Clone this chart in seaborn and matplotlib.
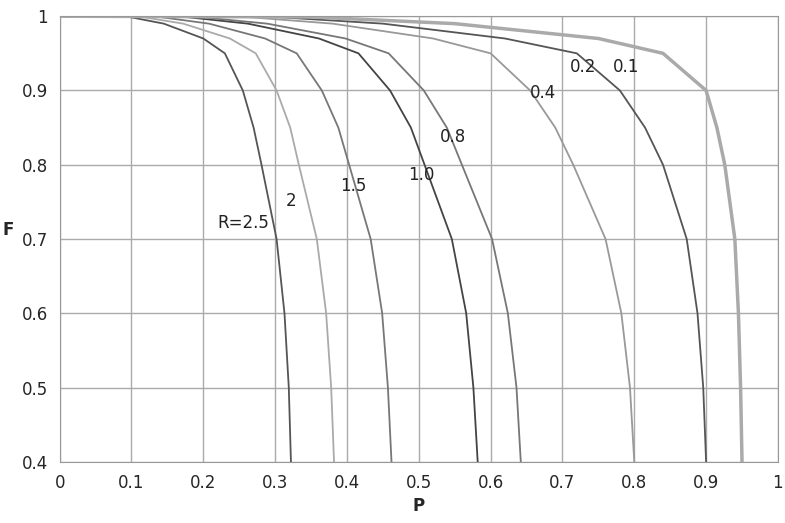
import matplotlib
matplotlib.use("Agg")
import matplotlib.pyplot as plt
import seaborn as sns
import pandas as pd
from matplotlib.ticker import MultipleLocator

sns.set_style("white")
plt.rcParams['font.family'] = ['DejaVu Sans']

F_vals = [1, 0.999, 0.99, 0.97, 0.95, 0.9, 0.85, 0.8, 0.7, 0.6, 0.5, 0.4]
P_R25 = [0, 0.097, 0.145, 0.2, 0.23, 0.255, 0.27, 0.281, 0.302, 0.313, 0.319, 0.322]
P_R2 = [0, 0.115, 0.172, 0.237, 0.273, 0.302, 0.321, 0.333, 0.358, 0.371, 0.378, 0.382]
P_R15 = [0, 0.139, 0.208, 0.286, 0.33, 0.365, 0.388, 0.403, 0.433, 0.449, 0.457, 0.462]
P_R10 = [0, 0.175, 0.262, 0.361, 0.416, 0.46, 0.489, 0.508, 0.546, 0.566, 0.576, 0.582]
P_R08 = [0, 0.193, 0.289, 0.398, 0.458, 0.507, 0.539, 0.56, 0.602, 0.624, 0.636, 0.642]
P_R04 = [0, 0.26, 0.38, 0.52, 0.6, 0.655, 0.69, 0.715, 0.76, 0.782, 0.794, 0.8]
P_R02 = [0, 0.3, 0.45, 0.62, 0.72, 0.78, 0.815, 0.84, 0.873, 0.888, 0.896, 0.9]
P_R01 = [0, 0.35, 0.55, 0.75, 0.84, 0.9, 0.915, 0.926, 0.94, 0.945, 0.948, 0.95]

curves = {"2.5": P_R25, "2": P_R2, "1.5": P_R15, "1.0": P_R10,
          "0.8": P_R08, "0.4": P_R04, "0.2": P_R02, "0.1": P_R01}
colors = {"2.5":"#555555","2":"#aaaaaa","1.5":"#777777","1.0":"#444444",
          "0.8":"#777777","0.4":"#999999","0.2":"#555555","0.1":"#aaaaaa"}
widths = {k: 1.3 for k in curves}
widths["0.1"] = 2.5
labels = {"2.5":("R=2.5",0.22,0.715),"2":("2",0.315,0.745),"1.5":("1.5",0.39,0.765),
          "1.0":("1.0",0.485,0.78),"0.8":("0.8",0.53,0.83),"0.4":("0.4",0.655,0.89),
          "0.2":("0.2",0.71,0.925),"0.1":("0.1",0.77,0.925)}

fig = plt.figure(figsize=(7.85,5.23), dpi=100)
ax = fig.add_axes([0.076,0.117,0.915,0.852])
for k, p in curves.items():
    df = pd.DataFrame({"P": p, "F": F_vals})
    sns.lineplot(data=df, x="P", y="F", ax=ax, color=colors[k], lw=widths[k], sort=False)
    t, x, y = labels[k]
    ax.text(x, y, t, fontsize=12, color="#222222")

ax.set_xlim(0,1); ax.set_ylim(0.4,1)
ax.xaxis.set_minor_locator(MultipleLocator(0.02))
ax.yaxis.set_minor_locator(MultipleLocator(0.02))
ax.set_xticks([i/10 for i in range(11)], ["0"]+[f"0.{i}" for i in range(1,10)]+["1"])
ax.set_yticks([0.4+i/10 for i in range(7)], [f"0.{i}" for i in range(4,10)]+["1"])
ax.tick_params(labelsize=12, which="both", direction="out", length=3, color="#888888")
ax.tick_params(which="major", length=5)
ax.grid(True, which="major", color="#aaaaaa", lw=1)
for s in ax.spines.values():
    s.set_color("#999999")
ax.set_xlabel("P", fontsize=12, fontweight="bold")
ax.set_ylabel("F", fontsize=12, fontweight="bold", rotation=0, labelpad=10)
fig.savefig("out.png", dpi=100)
